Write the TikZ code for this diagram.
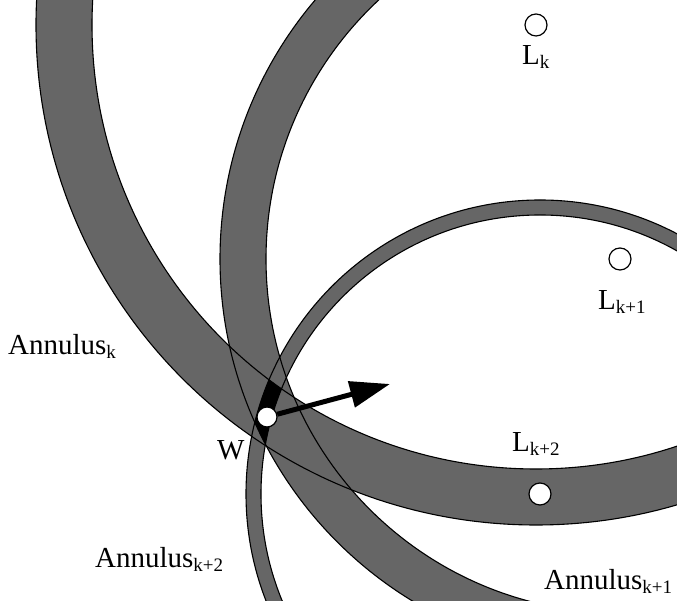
\documentclass[tikz,border=0pt]{standalone}
\usepackage{fontspec}
\setmainfont{Liberation Serif}
\usetikzlibrary{arrows.meta}
\definecolor{ringc}{HTML}{666666}
\newcommand{\idx}[1]{\raisebox{-3.5pt}{\fontsize{19}{19}\selectfont #1}}

\begin{document}
\begin{tikzpicture}[x=1pt, y=1pt, font=\fontsize{29}{34}\selectfont,
  edge/.style={line width=1.1pt},
  lmark/.style={circle, draw, line width=1.2pt, fill=white, minimum size=22pt, inner sep=0pt},
  lbl/.style={anchor=base west, inner sep=0pt}]
  \useasboundingbox (0,0) rectangle (677,601);
  \clip (0,0) rectangle (677,601);
  % landmark centres
  \coordinate (ck) at (536,576);
  \coordinate (ck1) at (620,342);
  \coordinate (ck2) at (540,107);

  % annuli
  \fill[ringc, even odd rule] (ck) circle (500pt) circle (444pt);
  \fill[ringc, even odd rule] (ck1) circle (400pt) circle (354pt);
  \fill[ringc, even odd rule] (ck2) circle (294pt) circle (279pt);

  % region common to the three annuli
  \begin{scope}
    \clip (ck) circle (500pt);
    \clip (ck1) circle (400pt);
    \clip (ck2) circle (294pt);
    \clip (-20,-20) -- (-20,620) -- (700,620) -- (700,-20) -- cycle (ck) circle (444pt);
    \clip (-20,-20) -- (-20,620) -- (700,620) -- (700,-20) -- cycle (ck1) circle (354pt);
    \clip (-20,-20) -- (-20,620) -- (700,620) -- (700,-20) -- cycle (ck2) circle (279pt);
    \fill[black] (0,0) rectangle (677,601);
  \end{scope}

  % ring edges
  \foreach \c/\r in {ck/500, ck/444, ck1/400, ck1/354, ck2/294, ck2/279}
    \draw[edge] (\c) circle (\r pt);

  % position and heading
  \node[lmark, minimum size=20pt] (w) at (267,184) {};
  \coordinate (tip) at (390,217);
  \draw[line width=5pt, -{Triangle[length=40pt, width=26pt]}] (w) -- (tip);

  % landmarks
  \foreach \c in {ck, ck1, ck2}
    \node[lmark] (l\c) at (\c) {};

  \node[lbl] (lblk) at (522,536) {L\idx{k}};
  \node[lbl] (lblk1) at (598,291) {L\idx{k+1}};
  \node[lbl] (lblk2) at (512,149) {L\idx{k+2}};
  \node[lbl] (annk) at (8,246) {Annulus\idx{k}};
  \node[lbl] (annk2) at (95,33) {Annulus\idx{k+2}};
  \node[lbl] (annk1) at (544,11) {Annulus\idx{k+1}};
  \node[lbl] (wlbl) at (217,141) {W};
\end{tikzpicture}
\end{document}
